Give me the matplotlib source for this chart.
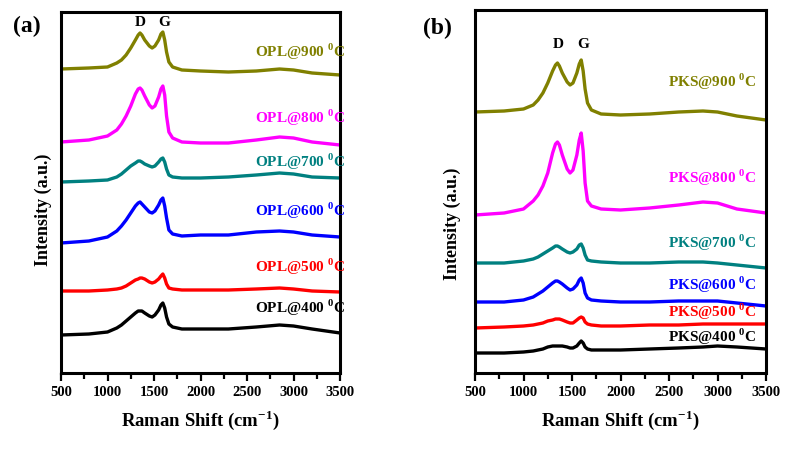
import numpy as np
import matplotlib
matplotlib.use('Agg')
import matplotlib.pyplot as plt
from matplotlib.ticker import MultipleLocator

plt.rcParams['font.family'] = ['Liberation Serif', 'DejaVu Serif']
plt.rcParams['font.weight'] = 'bold'
plt.rcParams['mathtext.fontset'] = 'custom'
plt.rcParams['mathtext.rm'] = 'Liberation Serif:bold'
plt.rcParams['mathtext.bf'] = 'Liberation Serif:bold'

# Raman shift sample points (cm-1), shared by every curve
shift = [500, 800, 1000, 1100, 1150, 1200, 1250, 1300, 1330, 1350, 1370, 1400,
         1450, 1480, 1510, 1550, 1575, 1595, 1615, 1635, 1660, 1700, 1800, 2000,
         2300, 2600, 2850, 3000, 3200, 3500]

# panel (a): OPL, offset intensity (a.u.)
opl_temps = ['900', '800', '700', '600', '500', '400']
opl_900 = [304, 305, 306, 310, 313, 318, 325, 333, 338, 340, 338, 333,
           327, 325, 327, 333, 339, 341, 333, 321, 311, 306, 303, 302,
           301, 302, 304, 303, 300, 298]
opl_800 = [231, 233, 237, 243, 249, 257, 267, 279, 284, 285, 283, 277,
           268, 265, 267, 276, 284, 287, 278, 257, 241, 235, 231, 230,
           230, 233, 236, 235, 231, 228]
opl_700 = [191, 192, 193, 196, 199, 203, 207, 210, 212, 212, 211, 209,
           207, 206, 207, 211, 214, 215, 211, 204, 198, 196, 195, 195,
           196, 198, 200, 199, 196, 195]
opl_600 = [130, 132, 136, 142, 147, 153, 160, 167, 170, 171, 169, 166,
           161, 160, 162, 168, 173, 175, 167, 155, 143, 139, 137, 138,
           138, 141, 142, 141, 138, 136]
opl_500 = [82, 82, 83, 84, 85, 87, 90, 93, 94, 95, 95, 94,
           91, 90, 91, 94, 97, 99, 95, 89, 85, 84, 83, 83,
           83, 84, 85, 84, 82, 81]
opl_400 = [38, 39, 41, 45, 48, 52, 56, 60, 62, 62, 62, 60,
           57, 56, 58, 63, 68, 70, 65, 56, 49, 46, 44, 44,
           44, 46, 48, 47, 44, 40]
opl_label_y = [321, 255, 211, 162, 106, 65]

# panel (b): PKS
pks_temps = ['900', '800', '700', '600', '500', '400']
pks_900 = [261, 262, 264, 268, 273, 280, 290, 302, 308, 310, 307, 300,
           291, 288, 290, 300, 309, 313, 302, 284, 270, 263, 259, 258,
           259, 261, 262, 261, 257, 253]
pks_800 = [158, 160, 164, 172, 178, 187, 200, 220, 229, 231, 228, 218,
           204, 200, 203, 218, 233, 240, 222, 190, 172, 167, 164, 163,
           165, 168, 171, 170, 164, 160]
pks_700 = [110, 110, 112, 114, 116, 119, 122, 125, 127, 127, 126, 124,
           121, 120, 121, 124, 128, 129, 125, 118, 113, 112, 111, 110,
           110, 111, 111, 110, 108, 105]
pks_600 = [71, 71, 73, 76, 79, 82, 86, 90, 92, 92, 91, 89,
           85, 83, 84, 88, 93, 95, 90, 80, 75, 73, 72, 71,
           71, 72, 72, 72, 70, 67]
pks_500 = [45, 46, 47, 48, 49, 50, 52, 53, 54, 54, 54, 53,
           51, 50, 50, 53, 55, 56, 55, 51, 49, 48, 47, 47,
           48, 48, 49, 49, 49, 49]
pks_400 = [20, 20, 21, 22, 23, 24, 26, 27, 27, 27, 27, 27,
           26, 25, 25, 27, 30, 32, 30, 26, 24, 23, 23, 23,
           24, 25, 26, 27, 26, 24]
pks_label_y = [291, 195, 130, 88, 61, 36]

colors = ['#808000', '#ff00ff', '#008080', '#0000ff', '#ff0000', '#000000']

fig = plt.figure(figsize=(7.86, 4.54), dpi=100)
W, H = 786.0, 454.0
ax_a = fig.add_axes([61 / W, 81 / H, 279 / W, 361 / H])
ax_b = fig.add_axes([475 / W, 81 / H, 291 / W, 363 / H])


def style(ax, ytop):
    ax.set_xlim(500, 3500)
    ax.set_ylim(0, ytop)
    ax.set_yticks([])
    ax.xaxis.set_major_locator(MultipleLocator(500))
    ax.xaxis.set_minor_locator(MultipleLocator(250))
    ax.tick_params(axis='x', which='major', direction='out', length=6, width=1.6,
                   labelsize=10.5, pad=3, top=False)
    ax.tick_params(axis='x', which='minor', direction='out', length=4, width=1.6, top=False)
    for lab in ax.get_xticklabels():
        lab.set_fontweight('bold')
    for sp in ax.spines.values():
        sp.set_linewidth(2.2)
    ax.set_xlabel('Raman Shift (cm$^{-1}$)', fontsize=13.5, fontweight='bold', labelpad=7)


series_a = [opl_900, opl_800, opl_700, opl_600, opl_500, opl_400]
for ys, c, t, ly in zip(series_a, colors, opl_temps, opl_label_y):
    ax_a.plot(shift, ys, color=c, lw=2.4, solid_joinstyle='round')
    ax_a.text(2590, ly, 'OPL@' + t + r' $^{\mathbf{0}}$C', color=c, fontsize=11,
              fontweight='bold', va='center', ha='left')
style(ax_a, 361)
ax_a.text(1349, 350, 'D', fontsize=11, fontweight='bold', ha='center', va='center')
ax_a.text(1607, 350, 'G', fontsize=11, fontweight='bold', ha='center', va='center')

series_b = [pks_900, pks_800, pks_700, pks_600, pks_500, pks_400]
for ys, c, t, ly in zip(series_b, colors, pks_temps, pks_label_y):
    ax_b.plot(shift, ys, color=c, lw=2.4, solid_joinstyle='round')
    ax_b.text(2490, ly, 'PKS@' + t + r' $^{\mathbf{0}}$C', color=c, fontsize=11,
              fontweight='bold', va='center', ha='left')
style(ax_b, 363)
ax_b.text(1356, 328, 'D', fontsize=11, fontweight='bold', ha='center', va='center')
ax_b.text(1613, 328, 'G', fontsize=11, fontweight='bold', ha='center', va='center')

# y labels and panel letters in figure pixels
fig.text(43 / W, 1 - 210 / H, 'Intensity (a.u.)', rotation=90, fontsize=13,
         fontweight='bold', ha='center', va='center')
fig.text(452 / W, 1 - 224 / H, 'Intensity (a.u.)', rotation=90, fontsize=13,
         fontweight='bold', ha='center', va='center')
fig.text(27 / W, 1 - 26 / H, '(a)', fontsize=17, fontweight='bold', ha='center', va='center')
fig.text(437 / W, 1 - 28 / H, '(b)', fontsize=17, fontweight='bold', ha='center', va='center')

fig.savefig('out.png', dpi=100)
